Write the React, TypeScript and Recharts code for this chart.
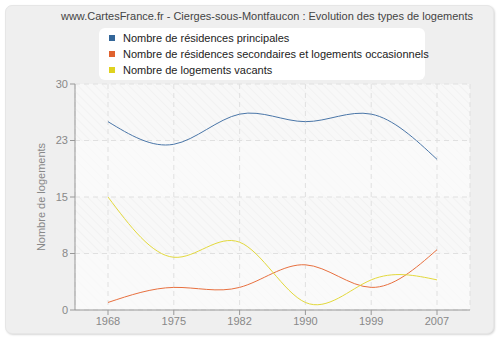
import React from "react";
import { LineChart, Line, XAxis, YAxis, CartesianGrid } from "recharts";

const years = ["1968", "1975", "1982", "1990", "1999", "2007"];
const principales = [25, 22, 26, 25, 26, 20];
const secondaires = [1, 3, 3, 6, 3, 8];
const vacants = [15, 7, 9, 1, 4, 4];
const yTicks = [0, 7.5, 15, 22.5, 30];

const seriesNames = [
  "Nombre de résidences principales",
  "Nombre de résidences secondaires et logements occasionnels",
  "Nombre de logements vacants",
];
const lineColors = ["#4a76a8", "#e8703f", "#e3d93c"];
const markerColors = ["#336699", "#e0622f", "#dfd21f"];

const data = years.map((y, i) => ({
  year: y,
  p: principales[i],
  s: secondaires[i],
  v: vacants[i],
}));

const FONT = "'Liberation Sans', Arial, sans-serif";

export default function App() {
  return (
    <div style={{ position: "absolute", left: 0, top: 0, width: 500, height: 340, background: "#fff", fontFamily: FONT }}>
      <div
        style={{
          position: "absolute",
          left: 5,
          top: 5,
          width: 489,
          height: 329,
          background: "#efefef",
          borderRadius: 7,
          boxShadow: "1px 1px 2px #d8d8d8",
          border: "1px solid #e6e6e6",
          boxSizing: "border-box",
        }}
      />
      <div
        style={{
          position: "absolute",
          left: 0,
          top: 10,
          width: 534,
          textAlign: "center",
          fontSize: 11,
          color: "#444",
          whiteSpace: "nowrap",
        }}
      >
        www.CartesFrance.fr - Cierges-sous-Montfaucon : Evolution des types de logements
      </div>
      <div
        style={{
          position: "absolute",
          left: 99,
          top: 28,
          width: 326,
          height: 52,
          background: "#fff",
          borderRadius: 6,
          boxSizing: "border-box",
          paddingTop: 2,
          paddingLeft: 10,
        }}
      >
        {seriesNames.map((n, i) => (
          <div key={n} style={{ height: 16, display: "flex", alignItems: "center", fontSize: 11, color: "#222", whiteSpace: "nowrap" }}>
            <span style={{ display: "inline-block", flexShrink: 0, width: 6, height: 6, background: markerColors[i], marginRight: 8 }} />
            {n}
          </div>
        ))}
      </div>
      <div style={{ position: "absolute", left: 0, top: 0 }}>
        <LineChart width={500} height={340} data={data} margin={{ top: 84, right: 30, bottom: 0, left: 0 }}>
          <defs>
            <pattern id="hatch" width="6" height="6" patternUnits="userSpaceOnUse" patternTransform="rotate(-45)">
              <rect width="6" height="6" fill="#f8f8f8" />
              <line x1="0" y1="0" x2="0" y2="6" stroke="#ececec" strokeWidth="1" />
            </pattern>
          </defs>
          <CartesianGrid
            stroke="#e0e0e0"
            strokeDasharray="5 4"
            vertical
            horizontal
            fill="url(#hatch)"
            fillOpacity={1}
            horizontalFill={["rgba(251,251,251,0)", "rgba(251,251,251,0.6)"]}
          />
          <XAxis
            dataKey="year"
            stroke="#999"
            tick={{ fill: "#888", fontSize: 11, fontFamily: FONT }}
            tickSize={5}
            height={30}
            padding={{ left: 33, right: 33 }}
          />
          <YAxis
            domain={[0, 30]}
            ticks={yTicks}
            tickFormatter={(v: number) => String(Math.round(v))}
            stroke="#999"
            tick={{ fill: "#888", fontSize: 11, fontFamily: FONT }}
            tickSize={5}
            width={75}
            label={{ value: "Nombre de logements", angle: -90, position: "insideLeft", offset: 41, fill: "#888", fontSize: 11, fontFamily: FONT, style: { textAnchor: "middle" } }}
          />
          <Line dataKey="p" type="natural" stroke={lineColors[0]} strokeWidth={1} dot={false} isAnimationActive={false} />
          <Line dataKey="s" type="natural" stroke={lineColors[1]} strokeWidth={1} dot={false} isAnimationActive={false} />
          <Line dataKey="v" type="natural" stroke={lineColors[2]} strokeWidth={1} dot={false} isAnimationActive={false} />
        </LineChart>
      </div>
    </div>
  );
}
